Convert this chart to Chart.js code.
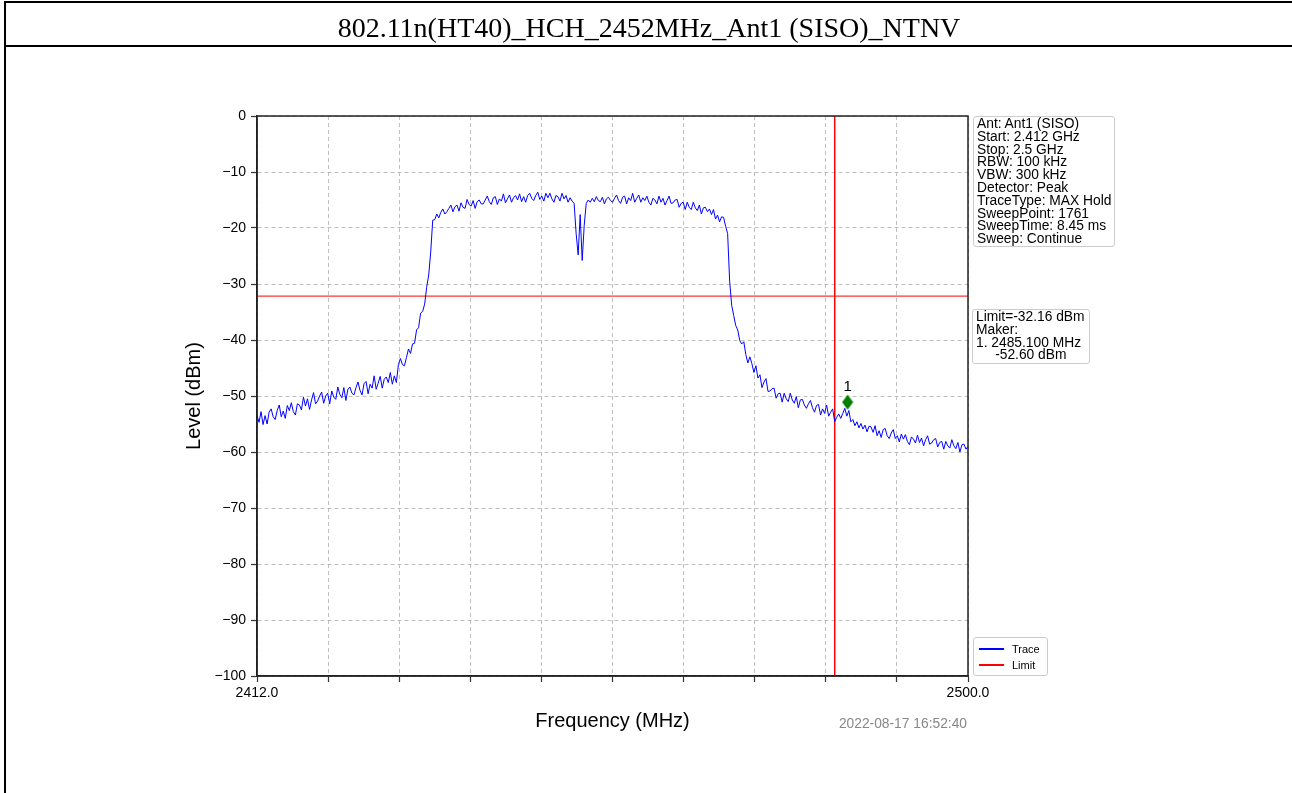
<!DOCTYPE html>
<html>
<head>
<meta charset="utf-8">
<script src="https://cdn.jsdelivr.net/npm/chart.js@4.4.0/dist/chart.umd.min.js"></script>
<style>
  body { margin: 0; background: #fff; font-family: "Liberation Sans", Arial, sans-serif; }
  #wrap { position: absolute; left: 0; top: 0; width: 1292px; height: 793px; overflow: hidden; }
  #grafico { position: absolute; left: 0; top: 0; }
  #marco { position: absolute; left: 4px; top: 1px; width: 1290px; height: 820px; border: 2px solid #000; box-sizing: border-box; }
  #titulo { position: absolute; left: 4px; top: 1px; width: 1290px; height: 46px; border: 2px solid #000; box-sizing: border-box;
            font-family: "Liberation Serif", "Times New Roman", serif; font-size: 28px; line-height: 44px; padding-top: 3px; text-align: center; color: #000; }
  .caja { position: absolute; border: 1px solid #ccc; border-radius: 3px; background: #fff; box-sizing: border-box;
          font-size: 13.8px; line-height: 12.8px; color: #000; white-space: pre; padding: 1px 0 0 3px; }
  #leyenda { position: absolute; left: 973px; top: 637px; width: 75px; height: 39px; border: 1px solid #ccc; border-radius: 3px; box-sizing: border-box; font-size: 11px; }
  #leyenda .fila { position: absolute; left: 5px; height: 14px; }
  #leyenda .linea { position: absolute; left: 0; top: 6px; width: 25px; height: 1.5px; }
  #leyenda .txt { position: absolute; left: 33px; top: 0; line-height: 14px; }
  #fecha { position: absolute; right: 325px; top: 716px; font-size: 13.8px; color: #888; }
</style>
</head>
<body>
<div id="wrap">
  <canvas id="grafico" width="1292" height="793"></canvas>
  <div id="marco"></div>
  <div id="titulo">802.11n(HT40)_HCH_2452MHz_Ant1 (SISO)_NTNV</div>
  <div class="caja" style="left:973px;top:116px;width:142px;height:131px;">Ant: Ant1 (SISO)
Start: 2.412 GHz
Stop: 2.5 GHz
RBW: 100 kHz
VBW: 300 kHz
Detector: Peak
TraceType: MAX Hold
SweepPoint: 1761
SweepTime: 8.45 ms
Sweep: Continue</div>
  <div class="caja" style="left:972px;top:309px;width:118px;height:55px;">Limit=-32.16 dBm
Maker:
1. 2485.100 MHz
     -52.60 dBm</div>
  <div id="leyenda">
    <div class="fila" style="top:4px;"><div class="linea" style="background:#0000ff"></div><div class="txt">Trace</div></div>
    <div class="fila" style="top:20px;"><div class="linea" style="background:#ff0000"></div><div class="txt">Limit</div></div>
  </div>
  <div id="fecha">2022-08-17 16:52:40</div>
</div>
<script>
// barrido (cada 0.25 MHz)
const freqInicio = 2412;
const freqFin = 2500;
const pasoFreq = 0.25;
const nivelesTrace = [
  -53.5, -54.7, -52.8, -55.1, -53.5, -55.0, -52.9, -52.3, -53.7, -54.2, -52.6, -51.6, -53.7, -52.7, -54.0, -51.7,
  -52.6, -51.2, -52.8, -53.4, -51.4, -51.6, -52.5, -50.2, -51.8, -50.5, -52.4, -50.7, -49.4, -51.4, -50.9, -50.0,
  -49.3, -51.3, -50.0, -49.5, -51.4, -49.1, -50.2, -50.6, -48.4, -49.7, -50.3, -48.5, -50.8, -48.8, -48.4, -49.5,
  -49.8, -48.5, -47.5, -49.0, -49.8, -47.8, -47.4, -49.6, -47.9, -48.6, -46.4, -48.8, -47.7, -46.5, -48.6, -47.0,
  -46.6, -47.6, -45.8, -47.9, -46.4, -47.6, -44.4, -43.3, -44.4, -44.6, -43.1, -41.6, -42.4, -40.7, -40.6, -38.2,
  -37.8, -35.2, -34.9, -33.6, -30.6, -28.4, -24.3, -18.6, -18.5, -17.5, -18.2, -17.2, -16.6, -17.5, -17.1, -16.5,
  -15.9, -17.1, -16.2, -15.9, -17.0, -15.5, -16.3, -16.5, -14.9, -15.8, -16.1, -15.1, -16.5, -15.3, -15.0, -15.7,
  -15.7, -15.0, -14.3, -15.3, -15.8, -14.6, -14.4, -15.8, -14.8, -15.2, -13.9, -15.5, -14.8, -14.1, -15.4, -14.6,
  -14.2, -15.0, -13.9, -15.3, -14.4, -15.4, -14.2, -13.8, -14.7, -15.1, -14.2, -13.6, -14.9, -14.3, -15.2, -13.8,
  -14.6, -13.8, -14.8, -15.4, -14.2, -14.4, -15.2, -13.8, -14.8, -14.2, -15.4, -14.6, -15.2, -15.6, -21.0, -24.8,
  -17.6, -25.8, -19.5, -15.6, -15.0, -15.4, -14.7, -15.3, -14.4, -15.1, -15.3, -14.5, -15.7, -14.8, -14.5, -15.1,
  -15.4, -14.7, -14.1, -15.1, -15.6, -14.5, -14.3, -15.7, -14.6, -15.1, -13.8, -15.4, -14.7, -14.1, -15.4, -14.6,
  -15.1, -14.3, -15.4, -15.9, -14.7, -15.0, -15.7, -14.3, -15.4, -14.7, -15.9, -15.1, -14.3, -15.6, -15.5, -15.0,
  -14.9, -16.3, -15.6, -15.4, -16.7, -15.4, -16.3, -16.7, -15.4, -16.4, -16.9, -15.9, -17.5, -16.4, -16.3, -17.1,
  -16.6, -17.6, -16.7, -18.4, -17.7, -18.9, -18.0, -18.1, -19.7, -21.0, -29.5, -33.8, -35.6, -37.4, -38.2, -40.1,
  -40.7, -40.3, -42.6, -44.1, -43.0, -44.2, -45.8, -44.6, -46.8, -46.2, -48.5, -47.5, -46.9, -49.2, -49.1, -48.7,
  -48.6, -50.4, -49.6, -49.5, -51.1, -49.5, -50.5, -51.0, -49.5, -50.7, -51.3, -50.1, -52.1, -50.7, -50.6, -51.6,
  -52.2, -51.4, -50.8, -52.1, -52.9, -51.7, -51.5, -53.4, -52.3, -53.1, -51.6, -53.6, -52.9, -52.3, -54.6, -53.8,
  -53.2, -54.0, -53.1, -52.2, -53.6, -52.6, -54.6, -54.2, -55.3, -54.6, -55.7, -54.9, -55.9, -55.2, -56.4, -55.4,
  -55.5, -56.5, -55.3, -57.1, -56.2, -57.4, -56.0, -55.8, -57.1, -57.6, -56.6, -56.0, -57.6, -57.1, -58.2, -56.8,
  -57.7, -56.9, -58.1, -58.7, -57.3, -57.7, -58.4, -57.0, -58.3, -57.5, -58.9, -57.8, -57.1, -58.6, -58.4, -57.8,
  -57.6, -59.1, -58.3, -58.1, -59.5, -58.1, -58.9, -59.3, -57.8, -58.9, -59.4, -58.3, -60.0, -58.7, -58.6, -59.5,
  -59.0
];
const nivelLimite = -32.16;
const bordeBanda = 2483.5;
const markerFreq = 2485.1;
const markerNivel = -51.1;
const ticksY = [0, -10, -20, -30, -40, -50, -60, -70, -80, -90, -100];
const gridX = [2412, 2420.8, 2429.6, 2438.4, 2447.2, 2456, 2464.8, 2473.6, 2482.4, 2491.2, 2500];

const puntosTrace = nivelesTrace.map((v, i) => ({ x: freqInicio + i * pasoFreq, y: v }));

// diamante del marker
const diamante = document.createElement("canvas");
diamante.width = 12; diamante.height = 16;
const dctx = diamante.getContext("2d");
dctx.fillStyle = "#007f00";
dctx.beginPath();
dctx.moveTo(6, 0.5); dctx.lineTo(11.5, 8); dctx.lineTo(6, 15.5); dctx.lineTo(0.5, 8); dctx.closePath();
dctx.fill();

const marcoPlot = {
  id: "marcoPlot",
  afterDraw(chart) {
    const { ctx, chartArea: a, scales } = chart;
    ctx.save();
    ctx.strokeStyle = "#222";
    ctx.lineWidth = 1.5;
    ctx.strokeRect(a.left, a.top, a.right - a.left, a.bottom - a.top);
    const px = scales.x.getPixelForValue(markerFreq);
    const py = scales.y.getPixelForValue(markerNivel);
    ctx.fillStyle = "#000";
    ctx.font = "15px 'Liberation Sans', Arial, sans-serif";
    ctx.textAlign = "center";
    ctx.textBaseline = "middle";
    ctx.fillText("1", px, py - 15);
    ctx.restore();
  }
};

const contexto = document.getElementById("grafico").getContext("2d");
new Chart(contexto, {
  type: "line",
  data: {
    datasets: [
      { label: "Trace", data: puntosTrace, borderColor: "#0000ff", borderWidth: 1, pointRadius: 0, tension: 0, fill: false },
      { label: "Limit", data: [{ x: freqInicio, y: nivelLimite }, { x: freqFin, y: nivelLimite }], borderColor: "#ff0000", borderWidth: 1, pointRadius: 0, fill: false },
      { label: "Edge", data: [{ x: bordeBanda, y: 0 }, { x: bordeBanda, y: -100 }], borderColor: "#ff0000", borderWidth: 1, pointRadius: 0, fill: false },
      { label: "Marker", data: [{ x: markerFreq, y: markerNivel }], showLine: false, pointStyle: diamante, pointRadius: 7 }
    ]
  },
  options: {
    responsive: false,
    animation: false,
    events: [],
    layout: { padding: { left: 177, top: 116, right: 324, bottom: 56 } },
    plugins: { legend: { display: false }, tooltip: { enabled: false } },
    scales: {
      x: {
        type: "linear",
        min: freqInicio,
        max: freqFin,
        afterBuildTicks: s => { s.ticks = gridX.map(v => ({ value: v })); },
        afterFit: s => { s.height = 61; },
        ticks: {
          autoSkip: false, maxRotation: 0, padding: 3, color: "#000",
          font: { family: "'Liberation Sans', Arial, sans-serif", size: 14 },
          callback: (v, i, arr) => (i === 0 || i === arr.length - 1) ? Number(v).toFixed(1) : ""
        },
        grid: { color: "#b0b0b0", lineWidth: 0.8, tickColor: "#333", tickLength: 6, tickWidth: 1.2 },
        border: { display: true, color: "#222", width: 1.5, dash: [4, 3] },
        title: { display: true, text: "Frequency (MHz)", color: "#000", padding: 4,
                 font: { family: "'Liberation Sans', Arial, sans-serif", size: 20 } }
      },
      y: {
        min: -100,
        max: 0,
        afterBuildTicks: s => { s.ticks = ticksY.map(v => ({ value: v })); },
        afterFit: s => { s.width = 80; },
        ticks: {
          padding: 5, color: "#000",
          font: { family: "'Liberation Sans', Arial, sans-serif", size: 14 },
          callback: v => String(v).replace("-", "\u2212")
        },
        grid: { color: "#b0b0b0", lineWidth: 0.8, tickColor: "#333", tickLength: 6, tickWidth: 1.2 },
        border: { display: true, color: "#222", width: 1.5, dash: [4, 3] },
        title: { display: true, text: "Level (dBm)", color: "#000", padding: 5,
                 font: { family: "'Liberation Sans', Arial, sans-serif", size: 20 } }
      }
    }
  },
  plugins: [marcoPlot]
});
</script>
</body>
</html>
